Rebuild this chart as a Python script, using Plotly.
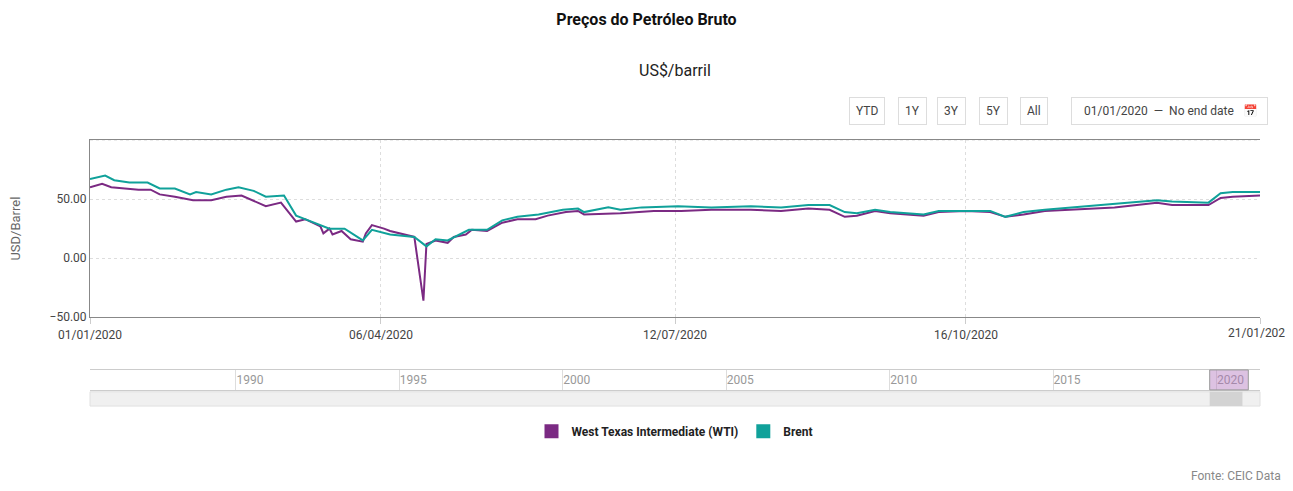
import pandas as pd
import plotly.graph_objects as go

start = pd.Timestamp('2020-01-01')

brent_day = [0, 5, 8, 13, 19, 23, 28, 33, 35, 40, 45, 49, 54, 58, 64, 68, 72, 76, 79, 84, 90, 93, 99,
             107, 111, 114, 118, 125, 131, 136, 141, 148, 156, 161, 163, 171, 175, 182, 194,
             205, 218, 228, 237, 244, 249, 253, 259, 264, 275, 280, 289, 297, 302, 308, 315, 328, 338,
             352, 357, 369, 373, 377, 386]
brent_val = [67, 70, 66, 64, 64, 59, 59, 54, 56, 54, 58, 60, 57, 52, 53, 36, 32, 28, 25, 25, 15, 24, 20,
             18, 10, 16, 15, 24, 24, 32, 35, 37, 41, 42, 39, 43, 41, 43, 44,
             43, 44, 43, 45, 45, 39, 38, 41, 39, 37, 40, 40, 40, 35, 39, 41, 44, 46,
             49, 48, 47, 55, 56, 56]

wti_day = [0, 4, 7, 16, 20, 23, 28, 34, 40, 45, 50, 58, 63, 68, 71, 76, 77, 79, 80, 83, 86, 90, 91,
           93, 97, 99, 107, 110, 111, 114, 118, 120, 124, 126, 131, 136, 141, 147, 151, 157, 161,
           163, 175, 186, 195,
           205, 218, 228, 237, 244, 249, 253, 259, 264, 275, 280, 289, 297, 302, 308, 315, 328, 338,
           352, 357, 369, 373, 377, 386]
wti_val = [60, 63, 60, 58, 58, 54, 52, 49, 49, 52, 53, 44, 47, 31, 33, 27, 21, 25, 20, 23, 16, 14, 21,
           28, 25, 23, 18, -36, 12, 15, 13, 18, 20, 24, 23, 30, 33, 33, 36, 39, 40,
           37, 38, 40, 40,
           41, 41, 40, 42, 41, 35, 36, 40, 38, 36, 39, 40, 39, 35, 37, 40, 42, 43,
           47, 45, 45, 51, 52, 53]

tick_dates = ['2020-01-01', '2020-04-06', '2020-07-12', '2020-10-16', '2021-01-21']
nav_years = ['1990', '1995', '2000', '2005', '2010', '2015', '2020']

WTI_COLOR = '#7b2a83'
BRENT_COLOR = '#10a19a'

brent_x = start + pd.to_timedelta(brent_day, 'D')
wti_x = start + pd.to_timedelta(wti_day, 'D')

fig = go.Figure()
fig.add_trace(go.Scatter(x=wti_x, y=wti_val, name='West Texas Intermediate (WTI)',
                         mode='lines', line=dict(color=WTI_COLOR, width=2), showlegend=False))
fig.add_trace(go.Scatter(x=brent_x, y=brent_val, name='Brent',
                         mode='lines', line=dict(color=BRENT_COLOR, width=2), showlegend=False))
# square legend swatches
for nm, col in [('<b>West Texas Intermediate (WTI)</b>', WTI_COLOR), ('<b>Brent</b>', BRENT_COLOR)]:
    fig.add_trace(go.Scatter(x=[None], y=[None], name=nm, mode='markers',
                             marker=dict(symbol='square', size=14, color=col)))
# invisible trace to anchor the navigator axis
fig.add_trace(go.Scatter(x=['1985-07-15', '2021-05-01'], y=[0, 0], xaxis='x2', yaxis='y2',
                         mode='lines', line=dict(width=0), showlegend=False, hoverinfo='skip'))

fig.update_layout(
    width=1277, height=475,
    paper_bgcolor='white', plot_bgcolor='white',
    font=dict(family='Roboto, Arial', size=12, color='#555'),
    margin=dict(l=82, r=25, t=0, b=0, autoexpand=False),
    showlegend=True,
    legend=dict(orientation='h', x=0.5, xanchor='center', y=0.109, yanchor='middle',
                font=dict(size=12, color='#222'), itemwidth=30),
    xaxis=dict(domain=[0, 1], range=['2020-01-01', '2021-01-21'], tickvals=tick_dates,
               tickformat='%d/%m/%Y', showgrid=True, gridcolor='#ddd', griddash='dot',
               showline=True, linecolor='#888', mirror=True, ticks='outside', ticklen=6,
               tickcolor='#ccc', tickfont=dict(size=12, color='#444'), anchor='y',
               automargin=False),
    yaxis=dict(domain=[0.349, 0.722], range=[-50, 100], tickvals=[-50, 0, 50], tickformat='.2f',
               showgrid=True, gridcolor='#ddd', griddash='dot', zeroline=False,
               showline=True, linecolor='#888', tickfont=dict(size=12, color='#444'),
               automargin=False,
               title=dict(text='USD/Barrel', font=dict(size=13, color='#666'), standoff=32)),
    xaxis2=dict(domain=[0, 1], range=['1985-07-15', '2021-05-01'], anchor='y2',
                tickvals=[y + '-01-01' for y in nav_years], ticktext=nav_years,
                showgrid=True, gridcolor='#ddd', ticklabelposition='inside right', ticks='',
                tickfont=dict(size=12, color='#999'), showline=True, linecolor='#ccc',
                mirror=True, automargin=False),
    yaxis2=dict(domain=[0.196, 0.238], range=[0, 1], visible=False),
    title=dict(text='<b>Preços do Petróleo Bruto</b>', x=0.5, y=0.975, yref='container',
               xanchor='center', yanchor='middle', font=dict(size=16, color='#111')),
)

annos = [dict(text='US$/barril', x=0.5, y=0.869, xref='paper', yref='paper', showarrow=False,
              xanchor='center', yanchor='middle', font=dict(size=16, color='#222')),
         dict(text='Fonte: CEIC Data', x=1.0197, y=0.015, xref='paper', yref='paper', showarrow=False,
              xanchor='right', yanchor='middle', font=dict(size=12, color='#888')),
         # last date tick label, which plotly drops at the edge
         dict(text='21/01/2021', x=1.0, y=0.315, xref='paper', yref='paper', showarrow=False,
              xanchor='center', yanchor='middle', font=dict(size=12, color='#444'))]
buttons = [('YTD', 0.664), ('1Y', 0.703), ('3Y', 0.736), ('5Y', 0.772), ('All', 0.807)]
for label, bx in buttons:
    annos.append(dict(text=label, x=bx, y=0.783, xref='paper', yref='paper', showarrow=False,
                      xanchor='center', yanchor='middle', bordercolor='#ddd', borderwidth=1,
                      borderpad=6, bgcolor='white', font=dict(size=12, color='#444')))
annos.append(dict(text='  01/01/2020  —  No end date   📅 ', x=0.923, y=0.783, xref='paper',
                  yref='paper', showarrow=False, xanchor='center', yanchor='middle',
                  bordercolor='#ddd', borderwidth=1, borderpad=6, bgcolor='white',
                  font=dict(size=12, color='#444')))
fig.update_layout(annotations=annos)

# top grid line at 100
fig.add_shape(type='line', xref='paper', yref='y', x0=0, x1=1, y0=100, y1=100,
              line=dict(color='#ddd', width=1, dash='dot'))
# scrollbar
fig.add_shape(type='rect', xref='paper', yref='paper', x0=0, x1=1, y0=0.162, y1=0.192,
              fillcolor='#f0f0f0', line=dict(color='#e0e0e0', width=1))
fig.add_shape(type='rect', xref='paper', yref='paper', x0=0.957, x1=0.985, y0=0.162, y1=0.192,
              fillcolor='#d3d3d3', line=dict(width=0))
fig.add_shape(type='rect', xref='paper', yref='paper', x0=0.957, x1=0.99, y0=0.196, y1=0.238,
              fillcolor='rgba(180,120,190,0.45)', line=dict(color='#999', width=1))

fig.write_html('out.html')
